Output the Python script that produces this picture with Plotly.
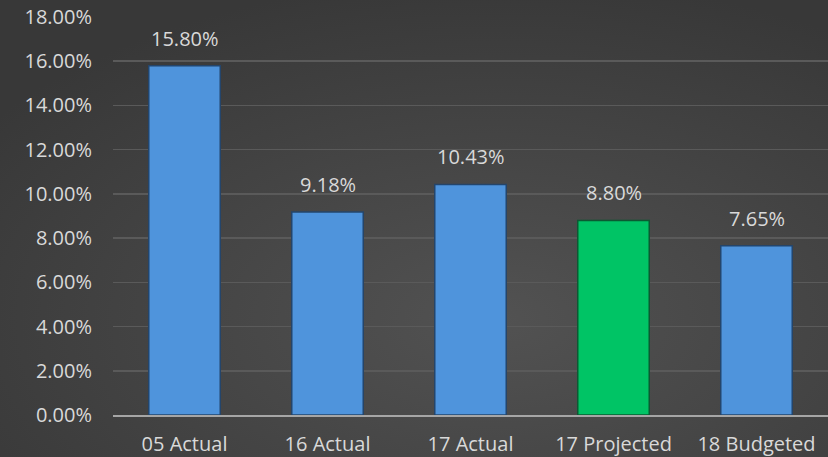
import base64
import plotly.graph_objects as go

categories = ["05 Actual", "16 Actual", "17 Actual", "17 Projected", "18 Budgeted"]
values = [15.80, 9.18, 10.43, 8.80, 7.65]
bar_colors = ["#4f94dc", "#4f94dc", "#4f94dc", "#00c465", "#4f94dc"]
line_colors = ["#24456b", "#24456b", "#24456b", "#0b5a32", "#24456b"]
tick_vals = [0, 2, 4, 6, 8, 10, 12, 14, 16, 18]
tick_text = [f"{v:.2f}%" for v in tick_vals]

font_color = "#d9d9d9"
fnt = "Open Sans"
W, H = 828, 457
ML, MR, MT, MB = 113, 0, 17, 42

svg = (
    '<svg xmlns="http://www.w3.org/2000/svg" width="828" height="457">'
    '<defs><radialGradient id="g" cx="0.6" cy="0.7" r="0.75">'
    '<stop offset="0" stop-color="#525252"/>'
    '<stop offset="1" stop-color="#383838"/>'
    '</radialGradient></defs>'
    '<rect width="828" height="457" fill="url(#g)"/></svg>'
)
bg_src = "data:image/svg+xml;base64," + base64.b64encode(svg.encode()).decode()

fig = go.Figure()
fig.add_trace(go.Bar(
    x=categories, y=values,
    marker=dict(color=bar_colors, line=dict(color=line_colors, width=1.5)),
    width=0.5,
    hoverinfo="skip",
))

for c, v in zip(categories, values):
    fig.add_annotation(x=c, y=v, text=f"{v:.2f}%", showarrow=False,
                       yanchor="bottom", yshift=12,
                       font=dict(family=fnt, size=20, color=font_color))

pw = W - ML - MR
ph = H - MT - MB
fig.add_layout_image(dict(
    source=bg_src, xref="paper", yref="paper",
    x=-ML / pw, y=1 + MT / ph, sizex=W / pw, sizey=H / ph,
    xanchor="left", yanchor="top", sizing="stretch", layer="below",
))

fig.update_layout(
    width=W, height=H,
    margin=dict(l=ML, r=MR, t=MT, b=MB),
    paper_bgcolor="#434343",
    plot_bgcolor="rgba(0,0,0,0)",
    showlegend=False,
    font=dict(family=fnt, size=20, color=font_color),
)
fig.update_yaxes(range=[0, 18], tickvals=tick_vals, ticktext=tick_text,
                 showgrid=True, gridcolor="#5a5a5a", gridwidth=1.5,
                 zeroline=False, showline=False, ticks="", ticklabelstandoff=20,
                 tickfont=dict(family=fnt, size=20, color=font_color))
fig.update_xaxes(showline=True, linecolor="#a6a6a6", linewidth=2,
                 ticks="", showgrid=False, ticklabelstandoff=10,
                 tickfont=dict(family=fnt, size=20, color=font_color))

fig.write_html("out.html", config={"displayModeBar": False, "staticPlot": True})

with open("out.html", encoding="utf-8") as f:
    html = f.read()
html = html.replace("<head>", "<head><style>html,body{margin:0;padding:0;overflow:hidden;}</style>", 1)
with open("out.html", "w", encoding="utf-8") as f:
    f.write(html)
